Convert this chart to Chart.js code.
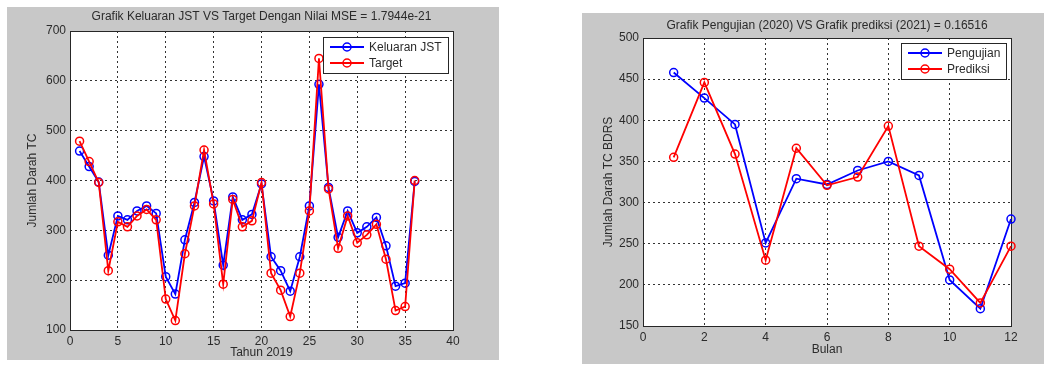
<!DOCTYPE html>
<html>
<head>
<meta charset="utf-8">
<script src="https://cdn.jsdelivr.net/npm/chart.js@4.4.1/dist/chart.umd.min.js"></script>
<style>
  body { margin: 0; background: #ffffff; width: 1047px; height: 367px; position: relative; overflow: hidden; }
  canvas { position: absolute; background: #c8c8c8; }
  #jstChart { left: 7px; top: 7px; }
  #prediksiChart { left: 582px; top: 13px; }
</style>
</head>
<body>
<canvas id="jstChart" width="492" height="353"></canvas>
<canvas id="prediksiChart" width="462" height="351"></canvas>
<script>
const tahun = [1, 2, 3, 4, 5, 6, 7, 8, 9, 10, 11, 12, 13, 14, 15, 16, 17, 18,
  19, 20, 21, 22, 23, 24, 25, 26, 27, 28, 29, 30, 31, 32, 33, 34, 35, 36];
const keluaranJst = [459, 428, 397, 250, 329, 321, 339, 349, 334, 207, 172, 281,
  356, 448, 359, 230, 367, 321, 332, 393, 247, 219, 178, 247,
  349, 593, 386, 286, 339, 295, 307, 326, 269, 188, 194, 398];
const target = [479, 438, 396, 219, 317, 307, 329, 342, 321, 162, 119, 253,
  349, 461, 353, 192, 362, 307, 319, 396, 214, 180, 127, 214,
  339, 645, 383, 264, 329, 275, 291, 312, 242, 139, 147, 400];

const bulan = [1, 2, 3, 4, 5, 6, 7, 8, 9, 10, 11, 12];
const pengujian = [458, 427, 395, 251, 329, 322, 339, 350, 333, 206, 171, 280];
const prediksi = [355, 446, 359, 230, 366, 321, 331, 393, 247, 219, 178, 247];

const fontFamily = '"Liberation Sans", Arial, sans-serif';
const textColor = '#2b2b2b';

const toPoints = (xs, ys) => xs.map((x, index) => ({ x, y: ys[index] }));

const makeDataset = (label, color, xs, ys, order) => ({
  label,
  data: toPoints(xs, ys),
  borderColor: color,
  borderWidth: 1.8,
  pointStyle: 'circle',
  pointRadius: 4,
  pointBorderWidth: 1.5,
  pointBackgroundColor: 'rgba(0,0,0,0)',
  pointBorderColor: color,
  tension: 0,
  clip: false,
  order
});

// white plot area + black frame, like the matlab axes
const plotFrame = {
  id: 'plotFrame',
  beforeDraw(chart) {
    const { ctx, chartArea: a } = chart;
    ctx.save();
    ctx.fillStyle = '#ffffff';
    ctx.fillRect(a.left, a.top, a.right - a.left, a.bottom - a.top);
    ctx.restore();
  },
  beforeDatasetsDraw(chart) {
    const { ctx, chartArea: a } = chart;
    ctx.save();
    ctx.strokeStyle = '#262626';
    ctx.lineWidth = 1;
    ctx.strokeRect(Math.round(a.left) + 0.5, Math.round(a.top) + 0.5,
      Math.round(a.right - a.left), Math.round(a.bottom - a.top));
    ctx.restore();
  }
};

// legend box inside the upper right corner
const insideLegend = {
  id: 'insideLegend',
  afterDraw(chart, args, opts) {
    const { ctx, chartArea: a } = chart;
    const sets = chart.data.datasets;
    ctx.save();
    ctx.font = '12px ' + fontFamily;
    const textW = Math.max(...sets.map((ds) => ctx.measureText(ds.label).width));
    const lineLen = opts.lineLen || 34;
    const w = Math.round(7 + lineLen + 5 + textW + 6);
    const h = 36;
    const x = Math.round(a.right - opts.right - w);
    const y = Math.round(a.top + opts.top);
    ctx.fillStyle = '#ffffff';
    ctx.fillRect(x, y, w, h);
    ctx.strokeStyle = '#262626';
    ctx.lineWidth = 1;
    ctx.strokeRect(x + 0.5, y + 0.5, w, h);
    sets.forEach((ds, index) => {
      const rowY = y + 10 + index * 16;
      const x1 = x + 7;
      const x2 = x1 + lineLen;
      ctx.strokeStyle = ds.borderColor;
      ctx.lineWidth = 1.8;
      ctx.beginPath();
      ctx.moveTo(x1, rowY);
      ctx.lineTo(x2, rowY);
      ctx.stroke();
      ctx.lineWidth = 1.5;
      ctx.beginPath();
      ctx.arc((x1 + x2) / 2, rowY, 4, 0, Math.PI * 2);
      ctx.stroke();
      ctx.fillStyle = textColor;
      ctx.textBaseline = 'middle';
      ctx.fillText(ds.label, x2 + 5, rowY + 1);
    });
    ctx.restore();
  }
};

const makeAxis = (cfg) => ({
  type: 'linear',
  min: cfg.min,
  max: cfg.max,
  afterFit: cfg.afterFit,
  ticks: {
    stepSize: cfg.step,
    padding: 4,
    color: textColor,
    font: { family: fontFamily, size: 12 }
  },
  grid: {
    color: '#333333',
    lineWidth: 1,
    drawTicks: false
  },
  border: { display: false, dash: [2, 3] },
  title: {
    display: true,
    text: cfg.title,
    color: textColor,
    font: { family: fontFamily, size: 12 },
    padding: cfg.titlePadding
  }
});

const makeChart = (canvasId, setup) => new Chart(document.getElementById(canvasId), {
  type: 'line',
  data: { datasets: setup.datasets },
  plugins: [plotFrame, insideLegend],
  options: {
    responsive: false,
    animation: false,
    devicePixelRatio: 1,
    layout: { padding: { left: 0, right: setup.rightPad, top: 0, bottom: 0 } },
    plugins: {
      legend: { display: false },
      tooltip: { enabled: false },
      title: {
        display: true,
        text: setup.title,
        fullSize: false,
        color: textColor,
        font: { family: fontFamily, size: 12, weight: 'normal' },
        padding: setup.titlePadding
      },
      insideLegend: setup.legend
    },
    scales: {
      x: makeAxis(setup.x),
      y: makeAxis(setup.y)
    }
  }
});

document.addEventListener('DOMContentLoaded', () => {
  makeChart('jstChart', {
    title: 'Grafik Keluaran JST VS Target Dengan Nilai MSE = 1.7944e-21',
    titlePadding: { top: 2, bottom: 7.6 },
    rightPad: 46,
    legend: { right: 5, top: 6 },
    datasets: [
      makeDataset('Keluaran JST', '#0000ff', tahun, keluaranJst, 2),
      makeDataset('Target', '#ff0000', tahun, target, 1)
    ],
    x: {
      min: 0, max: 40, step: 5, title: 'Tahun 2019',
      titlePadding: { top: 0, bottom: 0 },
      afterFit: (scale) => { scale.height = 30; }
    },
    y: {
      min: 100, max: 700, step: 100, title: 'Jumlah Darah TC',
      titlePadding: { top: 18, bottom: 0 },
      afterFit: (scale) => { scale.width = 63; }
    }
  });

  makeChart('prediksiChart', {
    title: 'Grafik Pengujian (2020) VS Grafik prediksi (2021) = 0.16516',
    titlePadding: { top: 5, bottom: 5.6 },
    rightPad: 33,
    legend: { right: 5, top: 5 },
    datasets: [
      makeDataset('Pengujian', '#0000ff', bulan, pengujian, 2),
      makeDataset('Prediksi', '#ff0000', bulan, prediksi, 1)
    ],
    x: {
      min: 0, max: 12, step: 2, title: 'Bulan',
      titlePadding: { top: 0, bottom: 7 },
      afterFit: (scale) => { scale.height = 38; }
    },
    y: {
      min: 150, max: 500, step: 50, title: 'Jumlah Darah TC BDRS',
      titlePadding: { top: 19, bottom: 0 },
      afterFit: (scale) => { scale.width = 61; }
    }
  });
});
</script>
</body>
</html>
